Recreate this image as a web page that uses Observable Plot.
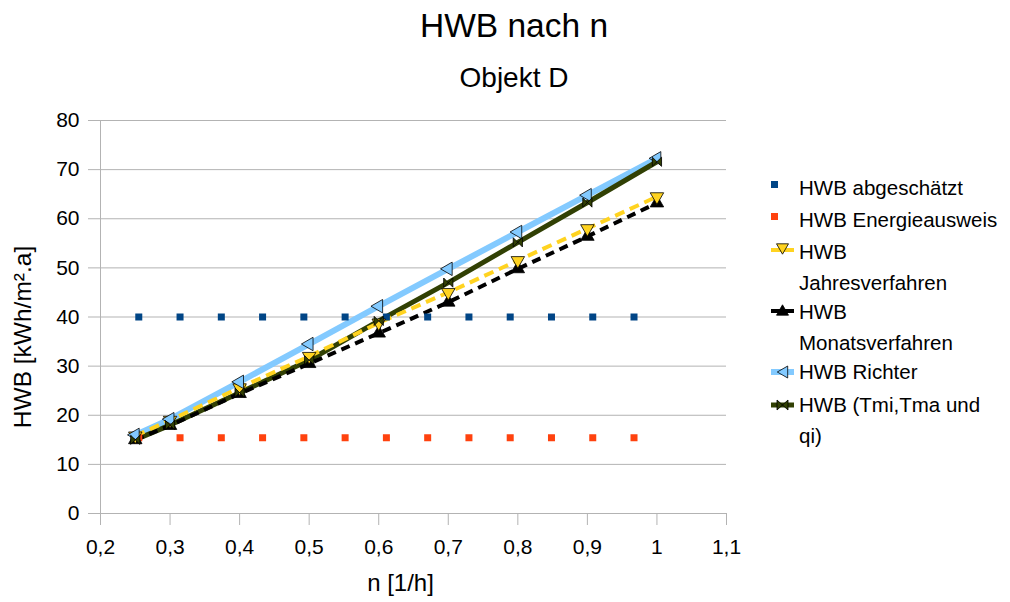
<!DOCTYPE html>
<html>
<head>
<meta charset="utf-8">
<script src="https://cdn.jsdelivr.net/npm/d3@7"></script>
<script src="https://cdn.jsdelivr.net/npm/@observablehq/plot@0.6"></script>
<style>
  html, body { margin: 0; padding: 0; background: #fff; }
  #wrap { position: relative; width: 1010px; height: 602px; font-family: "Liberation Sans", Arial, sans-serif; color: #000; overflow: hidden; }
  .title { position: absolute; left: 18px; width: 992px; text-align: center; white-space: nowrap; }
  #chart { position: absolute; left: 0; top: 100px; }
  .leg { position: absolute; left: 768px; font-size: 20.5px; line-height: 30.5px; white-space: nowrap; }
  .leg svg { position: absolute; left: 0; top: 0; }
  .leg span { position: absolute; left: 31px; top: 0; }
</style>
</head>
<body>
<div id="wrap">
  <div class="title" style="top:9px;font-size:33.5px;line-height:33.5px;">HWB nach n</div>
  <div class="title" style="top:64px;font-size:28px;line-height:28px;">Objekt D</div>
  <div id="chart"></div>
  <div id="legend"></div>
</div>
<script>
// ---- data ----
const nValues = [0.25, 0.3, 0.4, 0.5, 0.6, 0.7, 0.8, 0.9, 1.0];
const hwbAbgeschaetzt = [40, 40, 40, 40, 40, 40, 40, 40, 40];
const hwbEnergieausweis = [15.4, 15.4, 15.4, 15.4, 15.4, 15.4, 15.4, 15.4, 15.4];
const hwbJahres = [15.8, 19.0, 25.6, 32.0, 38.8, 45.0, 51.5, 58.0, 64.5];
const hwbMonats = [15.0, 17.9, 24.4, 30.5, 36.7, 43.0, 49.8, 56.4, 63.2];
const hwbRichter = [16.0, 19.2, 26.8, 34.5, 42.2, 49.8, 57.3, 64.8, 72.3];
const hwbTmi = [15.0, 18.0, 24.6, 31.2, 39.2, 47.0, 55.2, 63.3, 71.6];
const seriesNames = ["HWB abgeschätzt", "HWB Energieausweis", "HWB Jahresverfahren", "HWB Monatsverfahren", "HWB Richter", "HWB (Tmi,Tma und qi)"];
const legendLines = [["HWB abgeschätzt"], ["HWB Energieausweis"], ["HWB", "Jahresverfahren"], ["HWB", "Monatsverfahren"], ["HWB Richter"], ["HWB (Tmi,Tma und", "qi)"]];
const xTicks = [0.2, 0.3, 0.4, 0.5, 0.6, 0.7, 0.8, 0.9, 1.0, 1.1];
const yTicks = [0, 10, 20, 30, 40, 50, 60, 70, 80];
const xTitle = "n [1/h]";
const yTitle = "HWB [kWh/m².a]";

// ---- styles ----
const colors = ["#004586", "#ff420e", "#ffd320", "#000000", "#83caff", "#314004"];
const grid = "#b3b3b3";

const table = (ys) => nValues.map((n, i) => ({n, v: ys[i]}));
const dAbg = table(hwbAbgeschaetzt), dEne = table(hwbEnergieausweis), dJah = table(hwbJahres),
      dMon = table(hwbMonats), dRic = table(hwbRichter), dTmi = table(hwbTmi);

const bowtie = {
  draw(ctx, size) {
    const r = Math.sqrt(size) * 0.5;
    ctx.moveTo(-r, -r); ctx.lineTo(r, r); ctx.lineTo(r, -r); ctx.lineTo(-r, r); ctx.closePath();
  }
};
const fmt = d => String(d).replace(".", ",");

const plot = Plot.plot({
  width: 1010,
  height: 502,
  marginTop: 20,
  marginBottom: 89,
  marginLeft: 100,
  marginRight: 284,
  style: {fontFamily: "Liberation Sans, Arial, sans-serif", fontSize: "21px", color: "#000", background: "transparent"},
  x: {domain: [0.2, 1.1], label: null},
  y: {domain: [0, 80], label: null},
  marks: [
    Plot.gridY(yTicks, {stroke: grid, strokeOpacity: 1}),
    Plot.axisY(yTicks, {tickSize: 12, tickPadding: 9, stroke: grid, fill: "#000", tickFormat: fmt, label: null, fontSize: 21}),
    Plot.axisX(xTicks, {tickSize: 12, tickPadding: 14, stroke: grid, fill: "#000", tickFormat: fmt, label: null, fontSize: 21}),
    Plot.ruleX([0.2], {y1: 0, y2: 80, stroke: grid}),
    Plot.text([xTitle], {frameAnchor: "bottom", dx: -13, dy: 70, textAnchor: "middle", lineAnchor: "middle", fontSize: 24, fill: "#000"}),
    Plot.text([yTitle], {frameAnchor: "left", rotate: -90, dx: -77, dy: 20, textAnchor: "middle", lineAnchor: "middle", fontSize: 24.5, fill: "#000"}),
    // lines
    Plot.line(dRic, {x: "n", y: "v", stroke: colors[4], strokeWidth: 6, strokeLinecap: "butt"}),
    Plot.line(dTmi, {x: "n", y: "v", stroke: colors[5], strokeWidth: 5, strokeLinecap: "butt"}),
    Plot.line(dMon, {x: "n", y: "v", stroke: colors[3], strokeWidth: 4, strokeDasharray: "9,6", strokeLinecap: "butt"}),
    Plot.line(dJah, {x: "n", y: "v", stroke: colors[2], strokeWidth: 4, strokeDasharray: "10,6", strokeLinecap: "butt"}),
    // dotted series
    Plot.line(dAbg, {x: "n", y: "v", stroke: colors[0], strokeWidth: 7, strokeDasharray: "7,34.27", strokeLinecap: "butt"}),
    Plot.line(dEne, {x: "n", y: "v", stroke: colors[1], strokeWidth: 7, strokeDasharray: "7,34.27", strokeLinecap: "butt"}),
    // markers
    Plot.dot(dMon, {x: "n", y: "v", symbol: "triangle", r: 5, fill: colors[3], stroke: "#000", strokeWidth: 0.8}),
    Plot.dot(dJah, {x: "n", y: "v", symbol: "triangle", rotate: 180, r: 5, fill: colors[2], stroke: "#000", strokeWidth: 0.8}),
    Plot.dot(dRic, {x: "n", y: "v", symbol: "triangle", rotate: -90, r: 5, fill: colors[4], stroke: "#000", strokeWidth: 0.8}),
    Plot.dot(dTmi, {x: "n", y: "v", symbol: bowtie, r: 5.2, fill: colors[5], stroke: "#000", strokeWidth: 0.8})
  ]
});
document.getElementById("chart").appendChild(plot);

// ---- legend ----
const legendTops = [173, 205, 237, 297, 357, 390];
const legend = document.getElementById("legend");
const tri = (cx, cy, s, dir) => {
  const h = s * 0.866;
  if (dir === "down") return `${cx - s/2},${cy - h/2} ${cx + s/2},${cy - h/2} ${cx},${cy + h/2}`;
  if (dir === "up") return `${cx - s/2},${cy + h/2} ${cx + s/2},${cy + h/2} ${cx},${cy - h/2}`;
  return `${cx + h/2},${cy - s/2} ${cx + h/2},${cy + s/2} ${cx - h/2},${cy}`;
};
const swatches = [
  `<rect x="3" y="8" width="7" height="7" fill="${colors[0]}"/>`,
  `<rect x="3" y="8" width="7" height="7" fill="${colors[1]}"/>`,
  `<line x1="3" x2="26" y1="13" y2="13" stroke="${colors[2]}" stroke-width="4"/><polygon points="${tri(14.5, 12, 12, "down")}" fill="${colors[2]}" stroke="#000" stroke-width="0.8"/>`,
  `<line x1="3" x2="26" y1="14" y2="14" stroke="${colors[3]}" stroke-width="4"/><polygon points="${tri(14.5, 13, 12, "up")}" fill="${colors[3]}" stroke="#000" stroke-width="0.8"/>`,
  `<line x1="3" x2="26" y1="15" y2="15" stroke="${colors[4]}" stroke-width="6"/><polygon points="${tri(14.5, 15, 12, "left")}" fill="${colors[4]}" stroke="#000" stroke-width="0.8"/>`,
  `<line x1="3" x2="26" y1="15" y2="15" stroke="${colors[5]}" stroke-width="5"/><path d="M9,10L20,20L20,10L9,20Z" fill="${colors[5]}" stroke="#000" stroke-width="0.8"/>`
];
seriesNames.forEach((name, i) => {
  const div = document.createElement("div");
  div.className = "leg";
  div.style.top = legendTops[i] + "px";
  div.innerHTML = `<svg width="30" height="30">${swatches[i]}</svg><span>${legendLines[i].join("<br>")}</span>`;
  legend.appendChild(div);
});
</script>
</body>
</html>
